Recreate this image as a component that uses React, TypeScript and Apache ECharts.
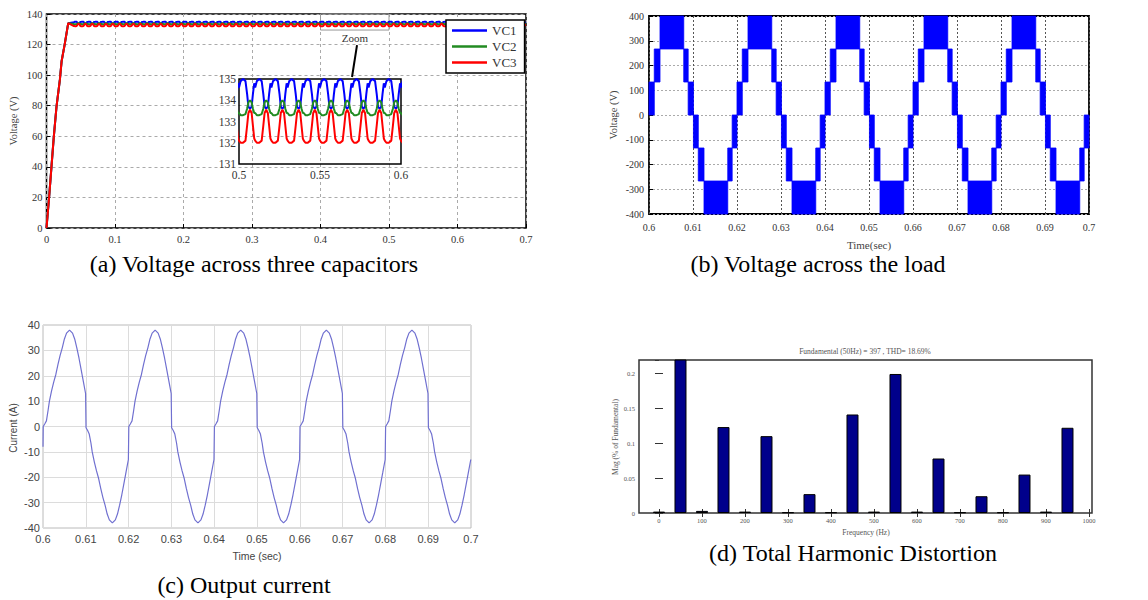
import React, { useEffect, useRef } from "react";
import * as echarts from "echarts";

// ---------- (a) capacitor voltages ----------
const riseTimes = [0, 0.0039, 0.0073, 0.0107, 0.0146, 0.0195, 0.022, 0.0268, 0.0317];
const riseVolts = [0, 20.7, 40.3, 59.9, 79.4, 96.9, 108.9, 120.8, 134.0];
const ripplePhase = [0, 0.1, 0.25, 0.4, 0.5, 0.58, 0.68, 0.78, 0.86, 0.94];
const vc1Ripple = [134.6, 134.9, 135.0, 134.9, 134.3, 133.7, 133.6, 133.7, 134.3, 134.8];
const vc2Ripple = [133.4, 133.3, 133.3, 133.35, 133.6, 133.9, 134.0, 133.9, 133.6, 133.4];
const vc3Ripple = [132.1, 132.0, 132.0, 132.1, 132.8, 133.4, 133.55, 133.4, 132.8, 132.2];
const ripplePeriod = 0.01;
const rippleStart = 0.04;
const rippleCycles = 66;
const vcNames = ["VC1", "VC2", "VC3"];
const vcColors = ["#0000ff", "#228b22", "#ff0000"];

// ---------- (b) load voltage (ms within a 20 ms cycle) ----------
const loadSegStart = [0, 1.2, 2.5, 7.9, 8.9, 10.1, 11.2, 12.5, 17.9, 18.9];
const loadSegEnd = [1.2, 2.5, 7.9, 8.9, 10.1, 11.2, 12.5, 17.9, 18.9, 20.0];
const loadSegLow = [0, 133.3, 266.7, 133.3, 0, -133.3, -266.7, -400, -266.7, -133.3];
const loadSegHigh = [133.3, 266.7, 400, 266.7, 133.3, 0, -133.3, -266.7, -133.3, 0];
const loadCycleStarts = [0.6, 0.62, 0.64, 0.66, 0.68];

// ---------- (c) output current (ms within a 20 ms cycle) ----------
const curFirst = [0.6, -8];
const curTau = [0.05, 0.4, 0.8, 1.2, 1.5, 2.0, 2.5, 3.0, 3.5, 4.0, 4.5, 5.0, 5.5, 6.2, 6.9, 7.4, 7.9, 8.4, 8.9, 9.4, 9.95,
  10.05, 10.4, 10.8, 11.2, 11.5, 12.0, 12.5, 13.0, 13.5, 14.0, 14.5, 15.0, 15.5, 16.2, 16.9, 17.4, 17.9, 18.4, 18.9, 19.4, 19.95];
const curVal = [0, 1, 2.2, 6.5, 10, 14, 17.5, 20.5, 24.5, 28, 31, 34.5, 36.8, 38, 36.8, 34.5, 31, 27, 22.5, 18, 13,
  -0.5, -1.5, -3, -6.5, -10, -14, -17.5, -20.5, -24.5, -28, -31, -34.5, -36.8, -38, -36.8, -34.5, -31, -27, -22.5, -18, -13];
const curCycleStarts = [0.6, 0.62, 0.64, 0.66, 0.68];

// ---------- (d) harmonic spectrum ----------
const harmFreq = [0, 50, 100, 150, 200, 250, 300, 350, 400, 450, 500, 550, 600, 650, 700, 750, 800, 850, 900, 950];
const harmMag = [0.002, 100, 0.003, 0.123, 0.002, 0.110, 0.001, 0.027, 0.001, 0.141, 0.002, 0.199, 0.002, 0.078, 0.001, 0.024, 0.001, 0.055, 0.002, 0.122];
const harmTicks = [0, 100, 200, 300, 400, 500, 600, 700, 800, 900, 1000];

const SERIF = '"Liberation Serif", "Times New Roman", serif';
const SANS = '"Liberation Sans", Arial, sans-serif';

const trim = (v: number) => String(Number(v.toFixed(2)));

function buildVc(ripple: number[]) {
  const pts: number[][] = riseTimes.map((t, i) => [t, riseVolts[i]]);
  for (let k = 0; k < rippleCycles; k++) {
    const base = rippleStart + k * ripplePeriod;
    ripplePhase.forEach((p, j) => pts.push([base + p * ripplePeriod, ripple[j]]));
  }
  pts.push([rippleStart + rippleCycles * ripplePeriod, ripple[0]]);
  return pts;
}

export default function App() {
  const ref = useRef<HTMLDivElement>(null);
  useEffect(() => {
    document.body.style.margin = "0";
    const chart = echarts.init(ref.current!, undefined, { renderer: "svg" });
    const vcData = [buildVc(vc1Ripple), buildVc(vc2Ripple), buildVc(vc3Ripple)];

    const loadRects: number[][] = [];
    loadCycleStarts.forEach((c0) => {
      loadSegStart.forEach((s, i) => {
        loadRects.push([c0 + s / 1000, c0 + loadSegEnd[i] / 1000, loadSegLow[i], loadSegHigh[i]]);
      });
    });

    const curData: number[][] = [curFirst];
    curCycleStarts.forEach((c0) => curTau.forEach((tau, i) => curData.push([c0 + tau / 1000, curVal[i]])));

    const harmData = harmFreq.map((f, i) => [f, harmMag[i]]);

    const matLabel = (size: number, margin: number, extra: any = {}) => ({
      fontFamily: SERIF, fontSize: size, color: "#333", margin, ...extra,
    });

    const option: any = {
      animation: false,
      backgroundColor: "#fff",
      grid: [
        { left: 46.5, top: 14, width: 479.5, height: 214, show: true, borderColor: "#000", borderWidth: 1.5, backgroundColor: "transparent" },
        { left: 239, top: 79, width: 162, height: 85, show: true, borderColor: "#000", borderWidth: 1.5, backgroundColor: "transparent", z: 5 },
        { left: 649, top: 16, width: 440, height: 198, show: true, borderColor: "#000", borderWidth: 1.8, backgroundColor: "transparent" },
        { left: 43, top: 325, width: 428, height: 203, show: true, borderColor: "#bbb", borderWidth: 1, backgroundColor: "transparent" },
        { left: 639, top: 360, width: 453, height: 153, show: true, borderColor: "#333", borderWidth: 1.5, backgroundColor: "transparent" },
      ],
      xAxis: [
        {
          type: "value", gridIndex: 0, min: 0, max: 0.7, interval: 0.1,
          axisLine: { show: false },
          axisTick: { inside: true, length: 4, lineStyle: { color: "#000" } },
          axisLabel: matLabel(10.5, 6, { formatter: trim }),
          splitLine: { show: true, lineStyle: { color: "#aaa", type: [3, 3] } },
        },
        {
          type: "value", gridIndex: 1, min: 0.5, max: 0.6, interval: 0.05, z: 6,
          axisLine: { show: false }, axisTick: { show: false },
          axisLabel: matLabel(11.5, 5, { formatter: trim }),
          splitLine: { show: false },
        },
        {
          type: "value", gridIndex: 2, min: 0.6, max: 0.7, interval: 0.01,
          axisLine: { show: false },
          axisTick: { inside: true, length: 4, lineStyle: { color: "#000" } },
          axisLabel: matLabel(10, 8, { formatter: trim }),
          splitLine: { show: true, lineStyle: { color: "#555", type: [2, 2] } },
        },
        {
          type: "value", gridIndex: 3, min: 0.6, max: 0.7, interval: 0.01,
          axisLine: { show: false }, axisTick: { show: false },
          axisLabel: { fontFamily: SANS, fontSize: 11, color: "#444", margin: 5, formatter: trim },
          splitLine: { show: true, lineStyle: { color: "#dcdcdc", type: "solid" } },
        },
        {
          type: "value", gridIndex: 4, min: -46.5, max: 1007,
          axisLine: { show: false },
          axisTick: { inside: true, length: 4, lineStyle: { color: "#333" }, customValues: harmTicks },
          axisLabel: matLabel(6.5, 4, { color: "#555", customValues: harmTicks, formatter: (v: number) => String(v) }),
          splitLine: { show: false },
        },
        {
          type: "value", gridIndex: 4, position: "top", min: -46.5, max: 1007,
          axisLine: { show: false },
          axisTick: { inside: true, length: 4, lineStyle: { color: "#333" }, customValues: harmTicks },
          axisLabel: { show: false, customValues: harmTicks },
          splitLine: { show: false },
        },
      ],
      yAxis: [
        {
          type: "value", gridIndex: 0, min: 0, max: 140, interval: 20,
          axisLine: { show: false },
          axisTick: { inside: true, length: 4, lineStyle: { color: "#000" } },
          axisLabel: matLabel(10.5, 4),
          splitLine: { show: true, lineStyle: { color: "#aaa", type: [3, 3] } },
        },
        {
          type: "value", gridIndex: 1, min: 131, max: 135, interval: 1, z: 6,
          axisLine: { show: false }, axisTick: { show: false },
          axisLabel: matLabel(11.5, 3),
          splitLine: { show: false },
        },
        {
          type: "value", gridIndex: 2, min: -400, max: 400, interval: 100,
          axisLine: { show: false },
          axisTick: { inside: true, length: 4, lineStyle: { color: "#000" } },
          axisLabel: matLabel(10, 5),
          splitLine: { show: true, lineStyle: { color: "#aaa", type: [2, 2] } },
        },
        {
          type: "value", gridIndex: 3, min: -40, max: 40, interval: 10,
          axisLine: { show: false }, axisTick: { show: false },
          axisLabel: { fontFamily: SANS, fontSize: 11, color: "#444", margin: 3 },
          splitLine: { show: true, lineStyle: { color: "#dcdcdc", type: "solid" } },
        },
        {
          type: "value", gridIndex: 4, min: 0, max: 0.219, interval: 0.05,
          axisLine: { show: false },
          axisTick: { inside: true, length: 4, lineStyle: { color: "#333" } },
          axisLabel: matLabel(6.5, 4, { color: "#555", formatter: trim, showMaxLabel: false }),
          splitLine: { show: false },
        },
        {
          type: "value", gridIndex: 4, position: "right", min: 0, max: 0.219, interval: 0.05,
          axisLine: { show: false },
          axisTick: { inside: true, length: 4, lineStyle: { color: "#333" } },
          axisLabel: { show: false },
          splitLine: { show: false },
        },
      ],
      legend: {
        data: vcNames, orient: "vertical", left: 446, top: 20,
        padding: [4, 8, 4, 6], itemGap: 3, itemWidth: 35, itemHeight: 2.5,
        icon: "rect", borderColor: "#000", borderWidth: 1.5, backgroundColor: "#fff",
        textStyle: { fontFamily: SERIF, fontSize: 13, color: "#333" }, z: 20,
        selectedMode: false,
      },
      series: [
        ...vcNames.map((n, i) => ({
          name: n, type: "line", xAxisIndex: 0, yAxisIndex: 0, data: vcData[i],
          showSymbol: false, lineStyle: { color: vcColors[i], width: 2 }, itemStyle: { color: vcColors[i] },
          z: 2 + i,
          ...(i === 0
            ? {
                markArea: {
                  silent: true,
                  itemStyle: { color: "rgba(0,0,0,0)", borderColor: "#999", borderWidth: 1 },
                  data: [[{ xAxis: 0.4, yAxis: 140 }, { xAxis: 0.5, yAxis: 129.5 }]],
                },
                markLine: {
                  silent: true, symbol: ["none", "arrow"], symbolSize: [0, 9],
                  label: { show: false },
                  lineStyle: { color: "#000", width: 2, type: "solid" },
                  data: [[{ coord: [0.4533, 119.7] }, { coord: [0.446, 98.8] }]],
                },
              }
            : {}),
        })),
        ...vcNames.map((n, i) => ({
          name: n, type: "line", xAxisIndex: 1, yAxisIndex: 1, data: vcData[i],
          showSymbol: false, lineStyle: { color: vcColors[i], width: 2 }, itemStyle: { color: vcColors[i] },
          z: 8 + i,
        })),
        {
          name: "Load voltage", type: "custom", xAxisIndex: 2, yAxisIndex: 2, data: loadRects,
          encode: { x: [0, 1], y: [2, 3] },
          renderItem: (params: any, api: any) => {
            const a = api.coord([api.value(0), api.value(3)]);
            const b = api.coord([api.value(1), api.value(2)]);
            return {
              type: "rect",
              shape: { x: a[0], y: a[1], width: b[0] - a[0], height: b[1] - a[1] },
              style: { fill: "#0000ff", stroke: "#0000ff", lineWidth: 0.8 },
            };
          },
        },
        {
          name: "Output current", type: "line", xAxisIndex: 3, yAxisIndex: 3, data: curData,
          showSymbol: false, lineStyle: { color: "#7070d0", width: 1.2 },
        },
        {
          name: "Harmonics", type: "bar", xAxisIndex: 4, yAxisIndex: 4, data: harmData,
          barWidth: 12, clip: true,
          itemStyle: { color: "#00008b", borderColor: "#000", borderWidth: 1 },
        },
      ],
      graphic: [
        { type: "text", x: 355, y: 38, style: { text: "Zoom", font: `11px ${SERIF}`, fill: "#333", align: "center", verticalAlign: "middle" } },
        { type: "text", x: 13, y: 121, rotation: Math.PI / 2, style: { text: "Voltage (V)", font: `10.5px ${SERIF}`, fill: "#444", align: "center", verticalAlign: "middle" } },
        { type: "text", x: 613, y: 115, rotation: Math.PI / 2, style: { text: "Voltage (V)", font: `10.5px ${SERIF}`, fill: "#444", align: "center", verticalAlign: "middle" } },
        { type: "text", x: 869, y: 245, style: { text: "Time(sec)", font: `11px ${SERIF}`, fill: "#444", align: "center", verticalAlign: "middle" } },
        { type: "text", x: 13, y: 428, rotation: Math.PI / 2, style: { text: "Current (A)", font: `10px ${SANS}`, fill: "#444", align: "center", verticalAlign: "middle" } },
        { type: "text", x: 257, y: 556, style: { text: "Time (sec)", font: `10.5px ${SANS}`, fill: "#444", align: "center", verticalAlign: "middle" } },
        { type: "text", x: 615, y: 437, rotation: Math.PI / 2, style: { text: "Mag (% of Fundamental)", font: `7.5px ${SERIF}`, fill: "#555", align: "center", verticalAlign: "middle" } },
        { type: "text", x: 866, y: 532, style: { text: "Frequency (Hz)", font: `7.5px ${SERIF}`, fill: "#555", align: "center", verticalAlign: "middle" } },
        { type: "text", x: 865, y: 351, style: { text: "Fundamental (50Hz) = 397 , THD= 18.69%", font: `7.5px ${SERIF}`, fill: "#555", align: "center", verticalAlign: "middle" } },
        { type: "text", x: 254, y: 264, style: { text: "(a) Voltage across three capacitors", font: `24px ${SERIF}`, fill: "#000", align: "center", verticalAlign: "middle" } },
        { type: "text", x: 818, y: 264, style: { text: "(b) Voltage across the load", font: `24px ${SERIF}`, fill: "#000", align: "center", verticalAlign: "middle" } },
        { type: "text", x: 244, y: 585, style: { text: "(c) Output current", font: `24px ${SERIF}`, fill: "#000", align: "center", verticalAlign: "middle" } },
        { type: "text", x: 853, y: 553, style: { text: "(d) Total Harmonic Distortion", font: `24px ${SERIF}`, fill: "#000", align: "center", verticalAlign: "middle" } },
      ],
    };
    chart.setOption(option);
    return () => chart.dispose();
  }, []);
  return <div ref={ref} style={{ width: 1148, height: 600 }} />;
}
